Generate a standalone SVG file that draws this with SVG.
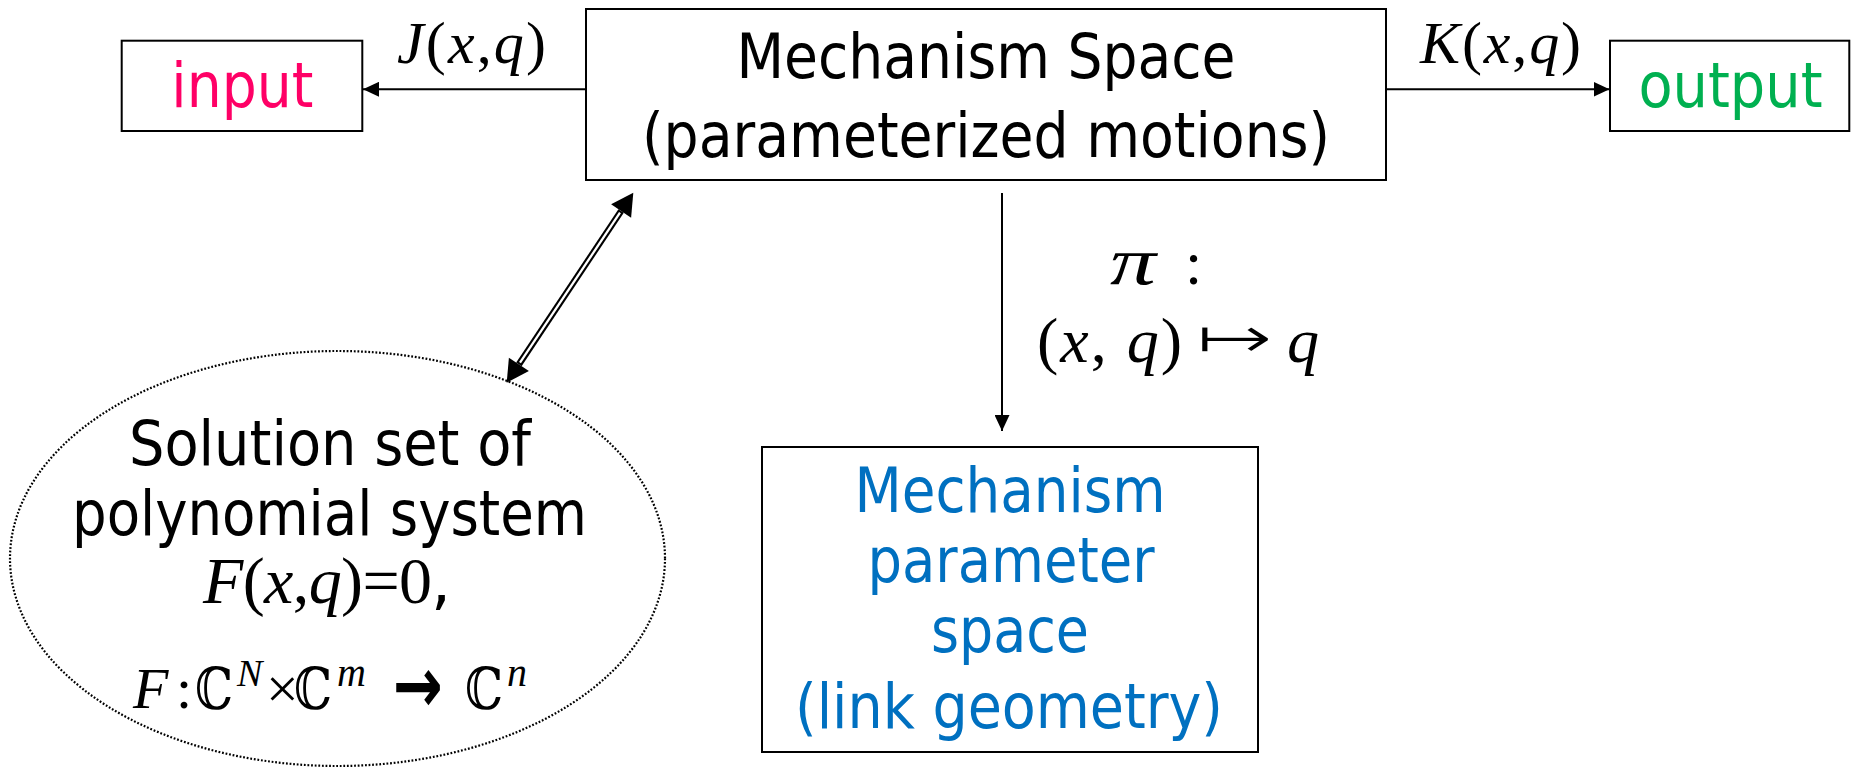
<svg xmlns="http://www.w3.org/2000/svg" width="1854" height="769" viewBox="0 0 1854 769">
<defs>
<style>
.box{fill:#fff;stroke:#000;stroke-width:2}
.sans{font-family:"DejaVu Sans Condensed","DejaVu Sans",sans-serif;font-size:63px;text-anchor:middle}
.m{font-family:"Liberation Serif","Times New Roman",serif}
.i{font-style:italic}
.conn{stroke:#000;stroke-width:2;fill:none}
</style>
<marker id="ah" markerUnits="userSpaceOnUse" markerWidth="16" markerHeight="15" refX="16" refY="7.5" orient="auto">
<path d="M0,0 L16,7.5 L0,15 z" fill="#000"/>
</marker>
</defs>
<rect width="1854" height="769" fill="#fff"/>

<g id="connectors">
<line class="conn" x1="586" y1="89.3" x2="363" y2="89.3" marker-end="url(#ah)"/>
<line class="conn" x1="1386" y1="89.3" x2="1609.5" y2="89.3" marker-end="url(#ah)"/>
<line class="conn" x1="1002" y1="193" x2="1002" y2="431" marker-end="url(#ah)"/>
<g id="double-arrow">
<line x1="518.9" y1="364.4" x2="621.1" y2="211" stroke="#000" stroke-width="6.5"/>
<line x1="520" y1="362.7" x2="620" y2="212.7" stroke="#fff" stroke-width="2.3"/>
<polygon points="633.3,192.7 631.1,217.7 611.1,204.3" fill="#000"/>
<polygon points="506.7,382.7 528.9,371.1 508.9,357.7" fill="#000"/>
</g>
<g id="label-J" class="m">
<text x="397" y="63.3" font-size="60" textLength="149" lengthAdjust="spacing"><tspan class="i">J</tspan>(<tspan class="i">x</tspan>,<tspan class="i">q</tspan>)</text>
</g>
<g id="label-K" class="m">
<text x="1420" y="63.3" font-size="60" textLength="161" lengthAdjust="spacing"><tspan class="i">K</tspan>(<tspan class="i">x</tspan>,<tspan class="i">q</tspan>)</text>
</g>
<g id="label-pi" class="m">
<text x="1110" y="284" font-size="68" class="i" textLength="46" lengthAdjust="spacingAndGlyphs">π</text>
<text x="1185" y="284" font-size="62">:</text>
<text x="1037" y="362" font-size="64" textLength="145" lengthAdjust="spacing">(<tspan class="i">x</tspan>, <tspan class="i">q</tspan>)</text>
<text x="1196" y="358" font-size="60" font-family="DejaVu Sans, sans-serif" stroke="#fff" stroke-width="1.6" textLength="78" lengthAdjust="spacingAndGlyphs">↦</text>
<text x="1287" y="362" font-size="64" class="i">q</text>
</g>
</g>

<g id="node-main">
<rect class="box" x="586" y="9" width="800" height="171"/>
<text class="sans" x="986" y="78" textLength="499" lengthAdjust="spacingAndGlyphs">Mechanism Space</text>
<text class="sans" x="986" y="157" textLength="688" lengthAdjust="spacingAndGlyphs">(parameterized motions)</text>
</g>

<g id="node-input">
<rect class="box" x="121.7" y="40.7" width="240.6" height="90.3"/>
<text class="sans" x="242.3" y="107.3" fill="#FF0066" textLength="142" lengthAdjust="spacingAndGlyphs">input</text>
</g>

<g id="node-output">
<rect class="box" x="1610" y="40.7" width="239.3" height="90.3"/>
<text class="sans" x="1730.5" y="107.3" fill="#00B050" textLength="184" lengthAdjust="spacingAndGlyphs">output</text>
</g>

<g id="node-param">
<rect class="box" x="762" y="447" width="496" height="305"/>
<g fill="#0070C0">
<text class="sans" x="1010" y="512.3" textLength="311" lengthAdjust="spacingAndGlyphs">Mechanism</text>
<text class="sans" x="1011" y="582.3" textLength="287" lengthAdjust="spacingAndGlyphs">parameter</text>
<text class="sans" x="1010" y="652" textLength="158" lengthAdjust="spacingAndGlyphs">space</text>
<text class="sans" x="1009" y="728.3" textLength="428" lengthAdjust="spacingAndGlyphs">(link geometry)</text>
</g>
</g>

<g id="node-solution">
<ellipse cx="337.5" cy="558.5" rx="327.5" ry="207.5" fill="none" stroke="#000" stroke-width="2.2" stroke-dasharray="1.8 1.8"/>
<text class="sans" x="330" y="464.5" textLength="402" lengthAdjust="spacingAndGlyphs">Solution set of</text>
<text class="sans" x="329.5" y="535" textLength="515" lengthAdjust="spacingAndGlyphs">polynomial system</text>
<text class="m" x="203" y="603" font-size="66" textLength="229" lengthAdjust="spacing"><tspan class="i">F</tspan>(<tspan class="i">x</tspan>,<tspan class="i">q</tspan>)=0</text>
<text x="431" y="603" font-family="DejaVu Sans, sans-serif" font-size="63">,</text>
<g class="m">
<text x="133" y="708" font-size="58" class="i">F</text>
<text x="176" y="708" font-size="58">:</text>
<text x="195" y="709" font-size="58" font-family="DejaVu Serif, serif" textLength="38" lengthAdjust="spacingAndGlyphs">ℂ</text>
<text x="237" y="686" font-size="38" class="i">N</text>
<text x="266" y="708" font-size="58">×</text>
<text x="294" y="709" font-size="58" font-family="DejaVu Serif, serif" textLength="38" lengthAdjust="spacingAndGlyphs">ℂ</text>
<text x="337" y="686" font-size="40" class="i">m</text>
<text x="393" y="712" font-size="78" font-weight="bold" font-family="DejaVu Sans, sans-serif" textLength="50" lengthAdjust="spacingAndGlyphs">→</text>
<text x="465" y="709" font-size="58" font-family="DejaVu Serif, serif" textLength="38" lengthAdjust="spacingAndGlyphs">ℂ</text>
<text x="507" y="686" font-size="40" class="i">n</text>
</g>
</g>
</svg>
